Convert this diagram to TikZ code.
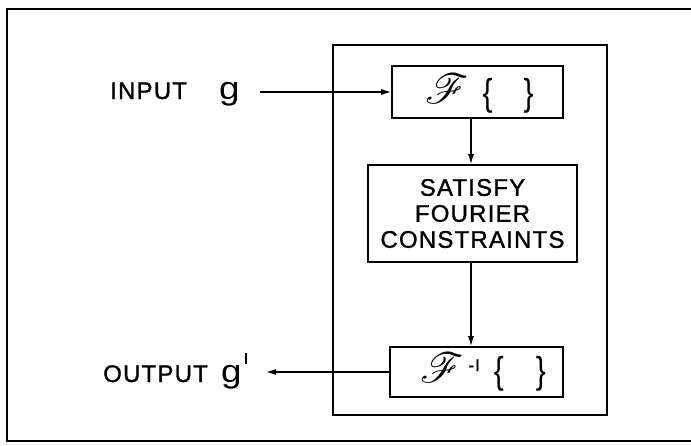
\documentclass[tikz,border=0pt]{standalone}
\usepackage{fontspec}
\setmainfont{Liberation Sans}
\newfontfamily\labfont[LetterSpace=5, FakeBold=1.2]{Liberation Sans}
\usepackage{mathrsfs}
\usetikzlibrary{arrows.meta}
\newcommand{\bigbr}[1]{\scalebox{1}[1.25]{\fontsize{30}{30}\selectfont#1}}
\newcommand{\scrF}{\scalebox{4.2}{$\mathscr{F}$}}
\begin{document}
\begin{tikzpicture}[x=1pt,y=-1pt,
  frame/.style={line width=1.6pt},
  box/.style={draw, line width=1.6pt, inner sep=0pt},
  lab/.style={font=\fontsize{24}{28}\labfont, inner sep=0pt},
  glyph/.style={font=\fontsize{32}{34}\selectfont, inner sep=0pt},
  arr/.style={-{Latex[length=10pt,width=6pt]}, line width=1.3pt},
  op/.style={font=\fontsize{10}{12}\selectfont, inner sep=0pt}
]
\useasboundingbox (0,0) rectangle (691,445);
% outer frame (right side cut off)
\draw[frame] (691,9) -- (7,9) -- (7,441) -- (691,441);
% inner frame
\node[box, minimum width=274pt, minimum height=370pt] (inner) at (470,230) {};
% boxes
\node[box, minimum width=171pt, minimum height=52pt] (ft) at (477.5,92) {};
\node[op, anchor=base west] (ftlab) at (425,105)
  {\raisebox{1.5pt}{\scrF}\hspace{14pt}\bigbr\{\hspace{31pt}\bigbr\}};
\node[box, minimum width=209pt, minimum height=97pt, align=center,
      font=\fontsize{24}{26}\labfont] (sat) at (472.5,213.5) {SATISFY\\FOURIER\\CONSTRAINTS};
\node[box, minimum width=173pt, minimum height=50pt] (fi) at (476.5,372) {};
\node[op, anchor=base west] (filab) at (420,383)
  {\raisebox{1pt}{\scrF}\hspace{5pt}\raisebox{12pt}{\fontsize{17}{17}\labfont -I}\hspace{14pt}\bigbr\{\hspace{32pt}\bigbr\}};
% labels
\node[lab, anchor=base west] (inlab) at (110,99) {INPUT};
\node[glyph, anchor=base west] (gin) at (219,99) {\scalebox{1.15}[1]{g}};
\node[lab, anchor=base west] (outlab) at (103,382) {OUTPUT};
\node[glyph, anchor=base west] (gout) at (221,382) {\scalebox{1.15}[1]{g}\hspace{3pt}\raisebox{18pt}{\rule{2.2pt}{11pt}}};
% connectors
\coordinate (inS) at (260,92);
\coordinate (outE) at (266,372);
\draw[arr] (inS) -- (ft.west);
\draw[arr] (ft.south -| 471,0) -- (sat.north -| 471,0);
\draw[arr] (sat.south -| 471,0) -- (fi.north -| 471,0);
\draw[arr] (fi.west) -- (outE);
\end{tikzpicture}
\end{document}
